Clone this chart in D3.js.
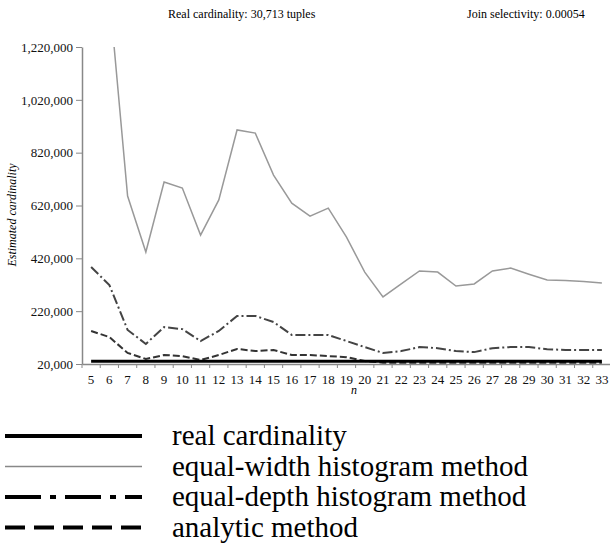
<!DOCTYPE html>
<html>
<head>
<meta charset="utf-8">
<script src="https://cdn.jsdelivr.net/npm/d3@7"></script>
</head>
<body style="margin:0">
<div id="chart"></div>
<script>
var nValues = [5,6,7,8,9,10,11,12,13,14,15,16,17,18,19,20,21,22,23,24,25,26,27,28,29,30,31,32,33];
var realCard = [30713,30713,30713,30713,30713,30713,30713,30713,30713,30713,30713,30713,30713,30713,30713,30713,30713,30713,30713,30713,30713,30713,30713,30713,30713,30713,30713,30713,30713];
var equalWidth = [null,1420000,656000,444000,709000,686000,508000,641000,906000,894000,735000,629000,580000,610000,500000,368000,274000,323000,372000,368000,315000,323000,372000,383000,360000,338000,336000,332000,327000];
var equalDepth = [387000,319000,149000,96000,160000,152000,107000,145000,202000,202000,179000,130000,130000,130000,107000,84000,62000,69000,84000,80000,69000,65000,80000,84000,84000,76000,73000,73000,73000];
var analytic = [145000,122000,62000,39000,54000,50000,35000,54000,77000,69000,73000,54000,54000,50000,46000,31000,25000,25000,25000,25000,25000,25000,25000,25000,25000,25000,25000,25000,25000];
var yTicks = [20000,220000,420000,620000,820000,1020000,1220000];

var legendItems = [
  {name: "real cardinality", color: "#000", width: 4, dash: null},
  {name: "equal-width histogram method", color: "#888", width: 1.5, dash: null},
  {name: "equal-depth histogram method", color: "#000", width: 4, dash: "36,9,6,9"},
  {name: "analytic method", color: "#000", width: 4, dash: "20,9"}
];

var serif = "Liberation Serif";
var width = 610, height = 552;
var plot = {left: 82, right: 611, top: 47, bottom: 364};

var svg = d3.select("#chart").append("svg")
  .attr("width", width)
  .attr("height", height);

var x = d3.scaleBand().domain(nValues).range([plot.left, plot.right]);
var y = d3.scaleLinear().domain([20000, 1220000]).range([plot.bottom, plot.top]);
var cx = d => x(d) + x.bandwidth() / 2;

// titles
svg.append("text").attr("x", 168).attr("y", 18).style("font-family", serif).style("font-size", "12px")
  .text("Real cardinality: 30,713 tuples");
svg.append("text").attr("x", 467).attr("y", 18).style("font-family", serif).style("font-size", "12px")
  .text("Join selectivity: 0.00054");

svg.append("defs").append("clipPath").attr("id", "plotclip")
  .append("rect").attr("x", plot.left).attr("y", plot.top)
  .attr("width", plot.right - plot.left).attr("height", plot.bottom - plot.top);

// y axis
var yAxis = d3.axisLeft(y).tickValues(yTicks).tickFormat(d3.format(",")).tickSize(6).tickSizeOuter(0);
var gy = svg.append("g").attr("transform", `translate(${plot.left},0)`).call(yAxis);
gy.select(".domain").attr("stroke", "#888").attr("stroke-width", 1.5);
gy.selectAll(".tick line").attr("stroke", "#888");
gy.selectAll(".tick text").attr("fill", "#111").attr("x", -9)
  .style("font-family", serif).style("font-size", "13px");

// x axis
var xAxis = d3.axisBottom(x).tickSize(0).tickPadding(11).tickSizeOuter(0);
var gx = svg.append("g").attr("transform", `translate(0,${plot.bottom})`).call(xAxis);
gx.select(".domain").attr("stroke", "#888").attr("stroke-width", 1.5);
gx.selectAll(".tick text").attr("fill", "#111")
  .style("font-family", serif).style("font-size", "13px");
gx.selectAll(".bound").data(nValues).enter().append("line")
  .attr("x1", d => x(d)).attr("x2", d => x(d))
  .attr("y1", 0).attr("y2", 4)
  .attr("stroke", "#888");

svg.append("text").attr("x", 354).attr("y", 394).attr("text-anchor", "middle")
  .style("font-family", serif).style("font-size", "12px").style("font-style", "italic").text("n");
svg.append("text").attr("transform", "translate(16,215) rotate(-90)").attr("text-anchor", "middle")
  .style("font-family", serif).style("font-size", "12px").style("font-style", "italic").text("Estimated cardinality");

// lines
var line = d3.line().defined(d => d != null).x((d, i) => cx(nValues[i])).y(d => y(d));
var g = svg.append("g").attr("clip-path", "url(#plotclip)");

g.append("path").datum(equalWidth).attr("d", line)
  .attr("fill", "none").attr("stroke", "#999").attr("stroke-width", 1.5);
g.append("path").datum(equalDepth).attr("d", line)
  .attr("fill", "none").attr("stroke", "#444").attr("stroke-width", 2).attr("stroke-dasharray", "10,3,2,3");
g.append("path").datum(analytic).attr("d", line)
  .attr("fill", "none").attr("stroke", "#333").attr("stroke-width", 2).attr("stroke-dasharray", "7,3");
g.append("path").datum(realCard).attr("d", line)
  .attr("fill", "none").attr("stroke", "#000").attr("stroke-width", 3);

// legend
var leg = svg.selectAll(".leg").data(legendItems).enter().append("g")
  .attr("transform", (d, i) => `translate(0,${436 + i * 30.5})`);
leg.append("line").attr("x1", 5).attr("x2", 142).attr("y1", 0).attr("y2", 0)
  .attr("stroke", d => d.color).attr("stroke-width", d => d.width)
  .attr("stroke-dasharray", d => d.dash);
leg.append("text").attr("x", 172).attr("y", 9)
  .style("font-family", serif).style("font-size", "29px").text(d => d.name);
</script>
</body>
</html>
